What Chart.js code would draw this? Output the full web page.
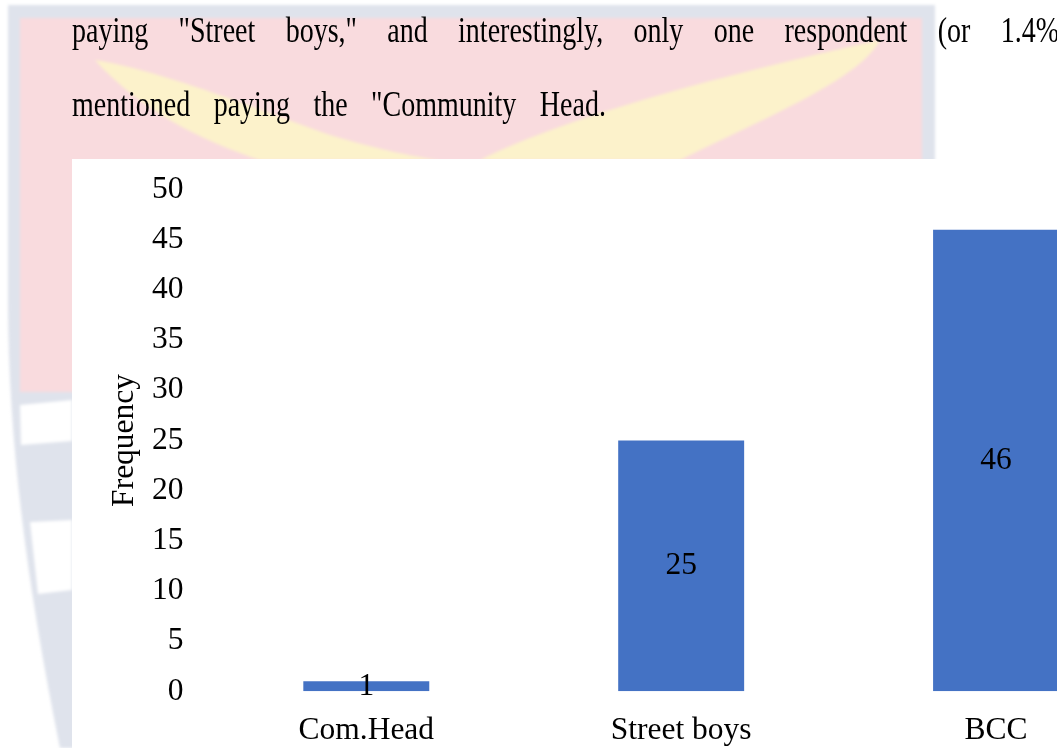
<!DOCTYPE html>
<html>
<head>
<meta charset="utf-8">
<title>Frequency chart</title>
<script src="https://cdn.jsdelivr.net/npm/chart.js@4.4.1/dist/chart.umd.min.js"></script>
<style>
  html, body { margin: 0; padding: 0; width: 1057px; height: 748px; overflow: hidden; background: #fff; }
  #bg { position: absolute; left: 0; top: 0; filter: blur(1.5px); }
  .line {
    position: absolute; left: 72px;
    font-family: "Liberation Serif", "Times New Roman", serif;
    font-size: 28px; line-height: 28px; color: #000;
    transform-origin: 0 23.45px;
    transform: scaleY(1.3);
  }
  #l1 { top: 19.25px; width: 987px; text-align: justify; text-align-last: justify; }
  #l2 { top: 93.25px; white-space: nowrap; word-spacing: 16.5px; }
  #whiteBox { position: absolute; left: 72px; top: 159px; width: 1000px; height: 600px; background: #fff; }
  #chartBox { position: absolute; left: 72px; top: 130px; width: 1090px; height: 618px; }
</style>
</head>
<body>
<!-- faint watermark behind the page text -->
<svg id="bg" width="1057" height="748">
  <path d="M8,5 H935 V748 H60 C30,600 8,450 8,300 Z" fill="#dfe3ec"/>
  <rect x="20" y="18" width="902" height="374" fill="#f9dbde"/>
  <path d="M20,405 L72,400 V441 L21,445 Z" fill="#fff"/>
  <path d="M30,522 L72,520 V590 L38,594 Z" fill="#fff"/>
  <path d="M95,60 C160,70 260,110 330,135 C380,150 420,158 440,160 L260,160 C200,140 140,110 95,60 Z" fill="#fcf2cb"/>
  <path d="M880,40 C860,80 760,120 680,160 L480,160 C560,120 700,80 880,40 Z" fill="#fcf2cb"/>
</svg>

<div class="line" id="l1">paying "Street boys," and interestingly, only one respondent (or 1.4%</div>
<div class="line" id="l2">mentioned paying the "Community Head.</div>

<div id="whiteBox"></div>
<div id="chartBox"><canvas id="freqChart"></canvas></div>

<script>
const categories = ['Com.Head', 'Street boys', 'BCC'];
const frequencies = [1, 25, 46];
const yMin = 0;
const yMax = 50;
const yStep = 5;
const axisTitle = 'Frequency';

const serif = '"Liberation Serif", "Times New Roman", serif';
const chartFont = { family: serif, size: 31.5 };

// value written in the middle of each bar
const barLabels = {
  id: 'barLabels',
  afterDatasetsDraw(chart) {
    const ctx = chart.ctx;
    const meta = chart.getDatasetMeta(0);
    ctx.save();
    ctx.font = chartFont.size + 'px ' + serif;
    ctx.fillStyle = '#000';
    ctx.textAlign = 'center';
    ctx.textBaseline = 'middle';
    meta.data.forEach((bar, i) => {
      ctx.fillText(String(frequencies[i]), bar.x, (bar.y + bar.base) / 2);
    });
    ctx.restore();
  }
};

new Chart(document.getElementById('freqChart'), {
  type: 'bar',
  data: {
    labels: categories,
    datasets: [{
      data: frequencies,
      backgroundColor: '#4472c4',
      borderWidth: 0,
      barPercentage: 0.4,
      categoryPercentage: 1.0
    }]
  },
  options: {
    responsive: true,
    maintainAspectRatio: false,
    animation: false,
    layout: { padding: { top: 59.5, right: 8.5, bottom: 0, left: 0 } },
    plugins: {
      legend: { display: false },
      tooltip: { enabled: false }
    },
    scales: {
      x: {
        grid: { display: false, drawTicks: false },
        border: { display: false },
        ticks: { color: '#000', font: chartFont, padding: 20.2, maxRotation: 0, autoSkip: false },
        afterFit(scale) { scale.height = 56.7; }
      },
      y: {
        min: yMin,
        max: yMax,
        grid: { display: false, drawTicks: false },
        border: { display: false },
        ticks: { stepSize: yStep, color: '#000', font: chartFont, padding: 25.3 },
        title: {
          display: true,
          text: axisTitle,
          color: '#000',
          font: chartFont,
          padding: { top: 33.8, bottom: 0 }
        },
        afterFit(scale) { scale.width = 136.85; }
      }
    }
  },
  plugins: [barLabels]
});
</script>
</body>
</html>
